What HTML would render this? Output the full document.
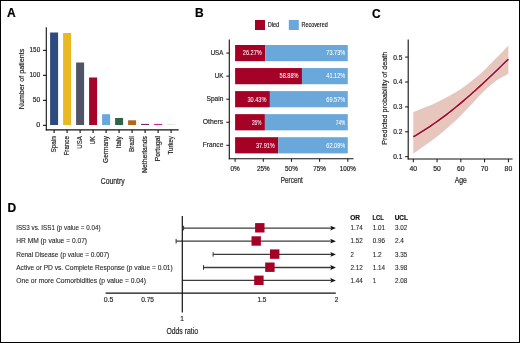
<!DOCTYPE html>
<html><head><meta charset="utf-8"><style>
html,body{margin:0;padding:0;background:#fff;}
svg{display:block;will-change:transform;}
text{font-family:"Liberation Sans", sans-serif;stroke:currentColor;stroke-width:0.18px;}
</style></head><body>
<svg width="520" height="343" viewBox="0 0 520 343" fill="#222">
<rect x="0" y="0" width="520" height="343" fill="#fff"/>
<text x="7.00" y="17.00" font-size="12" font-weight="bold" fill="#000" color="#000">A</text>
<line x1="46.30" y1="27.30" x2="46.30" y2="130.60" stroke="#111" stroke-width="1.1"/>
<line x1="45.80" y1="129.90" x2="178.70" y2="129.90" stroke="#111" stroke-width="1.2"/>
<line x1="43.00" y1="125.35" x2="46.30" y2="125.35" stroke="#111" stroke-width="1.1"/>
<text x="40.20" y="127.25" font-size="7.3" text-anchor="end" textLength="4.00" lengthAdjust="spacingAndGlyphs" fill="#222" color="#222">0</text>
<line x1="43.00" y1="100.35" x2="46.30" y2="100.35" stroke="#111" stroke-width="1.1"/>
<text x="40.20" y="102.25" font-size="7.3" text-anchor="end" textLength="7.40" lengthAdjust="spacingAndGlyphs" fill="#222" color="#222">50</text>
<line x1="43.00" y1="75.35" x2="46.30" y2="75.35" stroke="#111" stroke-width="1.1"/>
<text x="40.20" y="77.25" font-size="7.3" text-anchor="end" textLength="10.60" lengthAdjust="spacingAndGlyphs" fill="#222" color="#222">100</text>
<line x1="43.00" y1="50.35" x2="46.30" y2="50.35" stroke="#111" stroke-width="1.1"/>
<text x="40.20" y="52.25" font-size="7.3" text-anchor="end" textLength="10.60" lengthAdjust="spacingAndGlyphs" fill="#222" color="#222">150</text>
<rect x="50.10" y="32.50" width="8.00" height="92.50" fill="#2c4b7e"/>
<line x1="54.10" y1="129.90" x2="54.10" y2="133.10" stroke="#111" stroke-width="1.1"/>
<text x="56.40" y="136.10" font-size="6.8" text-anchor="end" textLength="16.50" lengthAdjust="spacingAndGlyphs" fill="#222" color="#222" transform="rotate(-90 56.40 136.10)">Spain</text>
<rect x="63.10" y="33.00" width="8.00" height="92.00" fill="#e9b822"/>
<line x1="67.10" y1="129.90" x2="67.10" y2="133.10" stroke="#111" stroke-width="1.1"/>
<text x="69.40" y="136.10" font-size="6.8" text-anchor="end" textLength="19.40" lengthAdjust="spacingAndGlyphs" fill="#222" color="#222" transform="rotate(-90 69.40 136.10)">France</text>
<rect x="76.10" y="62.50" width="8.00" height="62.50" fill="#4f5467"/>
<line x1="80.10" y1="129.90" x2="80.10" y2="133.10" stroke="#111" stroke-width="1.1"/>
<text x="82.40" y="136.10" font-size="6.8" text-anchor="end" textLength="12.60" lengthAdjust="spacingAndGlyphs" fill="#222" color="#222" transform="rotate(-90 82.40 136.10)">USA</text>
<rect x="89.10" y="77.50" width="8.00" height="47.50" fill="#a5052b"/>
<line x1="93.10" y1="129.90" x2="93.10" y2="133.10" stroke="#111" stroke-width="1.1"/>
<text x="95.40" y="136.10" font-size="6.8" text-anchor="end" textLength="8.50" lengthAdjust="spacingAndGlyphs" fill="#222" color="#222" transform="rotate(-90 95.40 136.10)">UK</text>
<rect x="102.10" y="114.20" width="8.00" height="10.80" fill="#6aa8dc"/>
<line x1="106.10" y1="129.90" x2="106.10" y2="133.10" stroke="#111" stroke-width="1.1"/>
<text x="108.40" y="136.10" font-size="6.8" text-anchor="end" textLength="26.80" lengthAdjust="spacingAndGlyphs" fill="#222" color="#222" transform="rotate(-90 108.40 136.10)">Germany</text>
<rect x="115.10" y="118.00" width="8.00" height="7.00" fill="#2e6447"/>
<line x1="119.10" y1="129.90" x2="119.10" y2="133.10" stroke="#111" stroke-width="1.1"/>
<text x="121.40" y="136.10" font-size="6.8" text-anchor="end" textLength="12.30" lengthAdjust="spacingAndGlyphs" fill="#222" color="#222" transform="rotate(-90 121.40 136.10)">Italy</text>
<rect x="128.10" y="120.30" width="8.00" height="4.70" fill="#b0661a"/>
<line x1="132.10" y1="129.90" x2="132.10" y2="133.10" stroke="#111" stroke-width="1.1"/>
<text x="134.40" y="136.10" font-size="6.8" text-anchor="end" textLength="15.80" lengthAdjust="spacingAndGlyphs" fill="#222" color="#222" transform="rotate(-90 134.40 136.10)">Brazil</text>
<rect x="141.10" y="123.90" width="8.00" height="1.10" fill="#6a2c7f"/>
<line x1="145.10" y1="129.90" x2="145.10" y2="133.10" stroke="#111" stroke-width="1.1"/>
<text x="147.40" y="136.10" font-size="6.8" text-anchor="end" textLength="36.80" lengthAdjust="spacingAndGlyphs" fill="#222" color="#222" transform="rotate(-90 147.40 136.10)">Netherlands</text>
<rect x="154.10" y="123.90" width="8.00" height="1.10" fill="#d41f8c"/>
<line x1="158.10" y1="129.90" x2="158.10" y2="133.10" stroke="#111" stroke-width="1.1"/>
<text x="160.40" y="136.10" font-size="6.8" text-anchor="end" textLength="25.10" lengthAdjust="spacingAndGlyphs" fill="#222" color="#222" transform="rotate(-90 160.40 136.10)">Portugal</text>
<rect x="167.10" y="123.90" width="8.00" height="1.10" fill="#e4e4e4"/>
<line x1="171.10" y1="129.90" x2="171.10" y2="133.10" stroke="#111" stroke-width="1.1"/>
<text x="173.40" y="136.10" font-size="6.8" text-anchor="end" textLength="18.40" lengthAdjust="spacingAndGlyphs" fill="#222" color="#222" transform="rotate(-90 173.40 136.10)">Turkey</text>
<text x="112.70" y="183.60" font-size="8.4" text-anchor="middle" textLength="24.00" lengthAdjust="spacingAndGlyphs" fill="#222" color="#222">Country</text>
<text x="24.00" y="79.00" font-size="8.0" text-anchor="middle" textLength="60.50" lengthAdjust="spacingAndGlyphs" fill="#222" color="#222" transform="rotate(-90 24.00 79.00)">Number of patients</text>
<text x="195.00" y="17.30" font-size="12" font-weight="bold" fill="#000" color="#000">B</text>
<rect x="255.00" y="20.00" width="10.00" height="10.00" fill="#a50026"/>
<text x="267.70" y="27.10" font-size="6.4" textLength="11.50" lengthAdjust="spacingAndGlyphs" fill="#222" color="#222">Died</text>
<rect x="288.80" y="20.00" width="10.00" height="10.00" fill="#6aa8dc"/>
<text x="301.50" y="27.10" font-size="6.4" textLength="26.20" lengthAdjust="spacingAndGlyphs" fill="#222" color="#222">Recovered</text>
<line x1="229.30" y1="39.40" x2="229.30" y2="159.30" stroke="#111" stroke-width="1.1"/>
<line x1="228.80" y1="158.75" x2="353.50" y2="158.75" stroke="#111" stroke-width="1.1"/>
<rect x="235.10" y="45.00" width="30.11" height="16.20" fill="#a50026"/>
<rect x="265.21" y="45.00" width="82.59" height="16.20" fill="#6aa8dc"/>
<line x1="226.30" y1="53.10" x2="229.30" y2="53.10" stroke="#111" stroke-width="1"/>
<text x="223.30" y="55.00" font-size="7.2" text-anchor="end" textLength="12.60" lengthAdjust="spacingAndGlyphs" fill="#222" color="#222">USA</text>
<text x="261.71" y="55.40" font-size="6.7" text-anchor="end" textLength="18.90" lengthAdjust="spacingAndGlyphs" fill="#fff" color="#fff" style="stroke-width:0.05px">26.27%</text>
<text x="345.20" y="55.40" font-size="6.7" text-anchor="end" textLength="18.90" lengthAdjust="spacingAndGlyphs" fill="#fff" color="#fff" style="stroke-width:0.05px">73.73%</text>
<rect x="235.10" y="68.05" width="66.86" height="16.20" fill="#a50026"/>
<rect x="301.96" y="68.05" width="45.84" height="16.20" fill="#6aa8dc"/>
<line x1="226.30" y1="76.15" x2="229.30" y2="76.15" stroke="#111" stroke-width="1"/>
<text x="223.30" y="78.05" font-size="7.2" text-anchor="end" textLength="8.50" lengthAdjust="spacingAndGlyphs" fill="#222" color="#222">UK</text>
<text x="298.46" y="78.45" font-size="6.7" text-anchor="end" textLength="18.90" lengthAdjust="spacingAndGlyphs" fill="#fff" color="#fff" style="stroke-width:0.05px">58.88%</text>
<text x="345.20" y="78.45" font-size="6.7" text-anchor="end" textLength="18.90" lengthAdjust="spacingAndGlyphs" fill="#fff" color="#fff" style="stroke-width:0.05px">41.12%</text>
<rect x="235.10" y="91.10" width="34.79" height="16.20" fill="#a50026"/>
<rect x="269.89" y="91.10" width="77.91" height="16.20" fill="#6aa8dc"/>
<line x1="226.30" y1="99.20" x2="229.30" y2="99.20" stroke="#111" stroke-width="1"/>
<text x="223.30" y="101.10" font-size="7.2" text-anchor="end" textLength="16.80" lengthAdjust="spacingAndGlyphs" fill="#222" color="#222">Spain</text>
<text x="266.39" y="101.50" font-size="6.7" text-anchor="end" textLength="18.90" lengthAdjust="spacingAndGlyphs" fill="#fff" color="#fff" style="stroke-width:0.05px">30.43%</text>
<text x="345.20" y="101.50" font-size="6.7" text-anchor="end" textLength="18.90" lengthAdjust="spacingAndGlyphs" fill="#fff" color="#fff" style="stroke-width:0.05px">69.57%</text>
<rect x="235.10" y="114.15" width="29.80" height="16.20" fill="#a50026"/>
<rect x="264.90" y="114.15" width="82.90" height="16.20" fill="#6aa8dc"/>
<line x1="226.30" y1="122.25" x2="229.30" y2="122.25" stroke="#111" stroke-width="1"/>
<text x="223.30" y="124.15" font-size="7.2" text-anchor="end" textLength="20.50" lengthAdjust="spacingAndGlyphs" fill="#222" color="#222">Others</text>
<text x="261.40" y="124.55" font-size="6.7" text-anchor="end" textLength="9.40" lengthAdjust="spacingAndGlyphs" fill="#fff" color="#fff" style="stroke-width:0.05px">26%</text>
<text x="345.20" y="124.55" font-size="6.7" text-anchor="end" textLength="9.40" lengthAdjust="spacingAndGlyphs" fill="#fff" color="#fff" style="stroke-width:0.05px">74%</text>
<rect x="235.10" y="137.20" width="43.22" height="16.20" fill="#a50026"/>
<rect x="278.32" y="137.20" width="69.48" height="16.20" fill="#6aa8dc"/>
<line x1="226.30" y1="145.30" x2="229.30" y2="145.30" stroke="#111" stroke-width="1"/>
<text x="223.30" y="147.20" font-size="7.2" text-anchor="end" textLength="20.50" lengthAdjust="spacingAndGlyphs" fill="#222" color="#222">France</text>
<text x="274.82" y="147.60" font-size="6.7" text-anchor="end" textLength="18.90" lengthAdjust="spacingAndGlyphs" fill="#fff" color="#fff" style="stroke-width:0.05px">37.91%</text>
<text x="345.20" y="147.60" font-size="6.7" text-anchor="end" textLength="18.90" lengthAdjust="spacingAndGlyphs" fill="#fff" color="#fff" style="stroke-width:0.05px">62.09%</text>
<line x1="235.10" y1="158.75" x2="235.10" y2="161.80" stroke="#111" stroke-width="1"/>
<text x="235.10" y="171.30" font-size="6.6" text-anchor="middle" textLength="9.30" lengthAdjust="spacingAndGlyphs" fill="#222" color="#222">0%</text>
<line x1="263.27" y1="158.75" x2="263.27" y2="161.80" stroke="#111" stroke-width="1"/>
<text x="263.27" y="171.30" font-size="6.6" text-anchor="middle" textLength="12.70" lengthAdjust="spacingAndGlyphs" fill="#222" color="#222">25%</text>
<line x1="291.45" y1="158.75" x2="291.45" y2="161.80" stroke="#111" stroke-width="1"/>
<text x="291.45" y="171.30" font-size="6.6" text-anchor="middle" textLength="12.70" lengthAdjust="spacingAndGlyphs" fill="#222" color="#222">50%</text>
<line x1="319.62" y1="158.75" x2="319.62" y2="161.80" stroke="#111" stroke-width="1"/>
<text x="319.62" y="171.30" font-size="6.6" text-anchor="middle" textLength="12.70" lengthAdjust="spacingAndGlyphs" fill="#222" color="#222">75%</text>
<line x1="347.80" y1="158.75" x2="347.80" y2="161.80" stroke="#111" stroke-width="1"/>
<text x="347.80" y="171.30" font-size="6.6" text-anchor="middle" textLength="16.10" lengthAdjust="spacingAndGlyphs" fill="#222" color="#222">100%</text>
<text x="291.80" y="183.20" font-size="8.4" text-anchor="middle" textLength="22.00" lengthAdjust="spacingAndGlyphs" fill="#222" color="#222">Percent</text>
<text x="372.00" y="17.50" font-size="12" font-weight="bold" fill="#000" color="#000">C</text>
<path d="M413.30,112.20 C415.28,111.38 421.23,108.97 425.19,107.30 C429.15,105.63 433.11,104.08 437.07,102.20 C441.04,100.32 445.00,98.20 448.96,96.00 C452.92,93.80 456.89,91.67 460.85,89.00 C464.81,86.33 468.78,83.17 472.74,80.00 C476.70,76.83 480.66,73.70 484.62,70.00 C488.59,66.30 492.55,61.88 496.51,57.80 C500.47,53.72 506.42,47.55 508.40,45.50 L508.40,73.80 C506.42,74.92 500.47,77.72 496.51,80.50 C492.55,83.28 488.59,86.75 484.62,90.50 C480.66,94.25 476.70,98.83 472.74,103.00 C468.78,107.17 464.81,111.58 460.85,115.50 C456.89,119.42 452.92,123.00 448.96,126.50 C445.00,130.00 441.04,133.37 437.07,136.50 C433.11,139.63 429.15,142.42 425.19,145.30 C421.23,148.18 415.28,152.38 413.30,153.80 Z" fill="#e6c6bd"/>
<polyline points="413.30,136.77 415.68,135.39 418.06,133.97 420.43,132.53 422.81,131.05 425.19,129.54 427.56,128.00 429.94,126.42 432.32,124.81 434.70,123.17 437.07,121.49 439.45,119.78 441.83,118.04 444.21,116.27 446.58,114.47 448.96,112.63 451.34,110.77 453.72,108.87 456.09,106.95 458.47,104.99 460.85,103.01 463.23,101.00 465.61,98.97 467.98,96.91 470.36,94.82 472.74,92.71 475.12,90.58 477.49,88.43 479.87,86.25 482.25,84.06 484.62,81.85 487.00,79.63 489.38,77.39 491.76,75.13 494.13,72.86 496.51,70.59 498.89,68.30 501.27,66.01 503.64,63.70 506.02,61.40 508.40,59.09" fill="none" stroke="#f3e4df" stroke-width="2.9"/>
<polyline points="413.30,136.77 415.68,135.39 418.06,133.97 420.43,132.53 422.81,131.05 425.19,129.54 427.56,128.00 429.94,126.42 432.32,124.81 434.70,123.17 437.07,121.49 439.45,119.78 441.83,118.04 444.21,116.27 446.58,114.47 448.96,112.63 451.34,110.77 453.72,108.87 456.09,106.95 458.47,104.99 460.85,103.01 463.23,101.00 465.61,98.97 467.98,96.91 470.36,94.82 472.74,92.71 475.12,90.58 477.49,88.43 479.87,86.25 482.25,84.06 484.62,81.85 487.00,79.63 489.38,77.39 491.76,75.13 494.13,72.86 496.51,70.59 498.89,68.30 501.27,66.01 503.64,63.70 506.02,61.40 508.40,59.09" fill="none" stroke="#a60a2c" stroke-width="1.7"/>
<line x1="408.20" y1="39.40" x2="408.20" y2="159.50" stroke="#111" stroke-width="1.1"/>
<line x1="407.70" y1="159.00" x2="512.60" y2="159.00" stroke="#111" stroke-width="1.1"/>
<line x1="405.10" y1="156.70" x2="408.20" y2="156.70" stroke="#111" stroke-width="1"/>
<text x="402.30" y="159.10" font-size="6.6" text-anchor="end" textLength="9.10" lengthAdjust="spacingAndGlyphs" fill="#222" color="#222">0.1</text>
<line x1="405.10" y1="131.80" x2="408.20" y2="131.80" stroke="#111" stroke-width="1"/>
<text x="402.30" y="134.20" font-size="6.6" text-anchor="end" textLength="9.10" lengthAdjust="spacingAndGlyphs" fill="#222" color="#222">0.2</text>
<line x1="405.10" y1="106.90" x2="408.20" y2="106.90" stroke="#111" stroke-width="1"/>
<text x="402.30" y="109.30" font-size="6.6" text-anchor="end" textLength="9.10" lengthAdjust="spacingAndGlyphs" fill="#222" color="#222">0.3</text>
<line x1="405.10" y1="82.00" x2="408.20" y2="82.00" stroke="#111" stroke-width="1"/>
<text x="402.30" y="84.40" font-size="6.6" text-anchor="end" textLength="9.10" lengthAdjust="spacingAndGlyphs" fill="#222" color="#222">0.4</text>
<line x1="405.10" y1="57.10" x2="408.20" y2="57.10" stroke="#111" stroke-width="1"/>
<text x="402.30" y="59.50" font-size="6.6" text-anchor="end" textLength="9.10" lengthAdjust="spacingAndGlyphs" fill="#222" color="#222">0.5</text>
<line x1="413.30" y1="159.00" x2="413.30" y2="162.30" stroke="#111" stroke-width="1"/>
<text x="413.30" y="170.90" font-size="6.6" text-anchor="middle" textLength="7.60" lengthAdjust="spacingAndGlyphs" fill="#222" color="#222">40</text>
<line x1="437.07" y1="159.00" x2="437.07" y2="162.30" stroke="#111" stroke-width="1"/>
<text x="437.07" y="170.90" font-size="6.6" text-anchor="middle" textLength="7.60" lengthAdjust="spacingAndGlyphs" fill="#222" color="#222">50</text>
<line x1="460.85" y1="159.00" x2="460.85" y2="162.30" stroke="#111" stroke-width="1"/>
<text x="460.85" y="170.90" font-size="6.6" text-anchor="middle" textLength="7.60" lengthAdjust="spacingAndGlyphs" fill="#222" color="#222">60</text>
<line x1="484.62" y1="159.00" x2="484.62" y2="162.30" stroke="#111" stroke-width="1"/>
<text x="484.62" y="170.90" font-size="6.6" text-anchor="middle" textLength="7.60" lengthAdjust="spacingAndGlyphs" fill="#222" color="#222">70</text>
<line x1="508.40" y1="159.00" x2="508.40" y2="162.30" stroke="#111" stroke-width="1"/>
<text x="508.40" y="170.90" font-size="6.6" text-anchor="middle" textLength="7.60" lengthAdjust="spacingAndGlyphs" fill="#222" color="#222">80</text>
<text x="460.80" y="183.30" font-size="8.4" text-anchor="middle" textLength="12.20" lengthAdjust="spacingAndGlyphs" fill="#222" color="#222">Age</text>
<text x="387.40" y="98.25" font-size="7.6" text-anchor="middle" textLength="93.10" lengthAdjust="spacingAndGlyphs" fill="#222" color="#222" transform="rotate(-90 387.40 98.25)">Predicted probability of death</text>
<text x="7.50" y="211.70" font-size="12" font-weight="bold" fill="#000" color="#000">D</text>
<text x="16.20" y="230.10" font-size="6.5" textLength="84.30" lengthAdjust="spacingAndGlyphs" fill="#2a2a2a" color="#2a2a2a" style="stroke-width:0.1px">ISS3 vs. ISS1 (p value = 0.04)</text>
<line x1="183.60" y1="228.10" x2="331.00" y2="228.10" stroke="#3c3c3c" stroke-width="1.3"/>
<line x1="183.60" y1="225.80" x2="183.60" y2="230.40" stroke="#333" stroke-width="1"/>
<path d="M330.3,225.70 L335.9,228.10 L330.3,230.50 L331.3,228.10 Z" fill="#111"/>
<rect x="255.10" y="223.10" width="9.40" height="9.40" fill="#a50026"/>
<text x="350.50" y="230.10" font-size="6.9" textLength="12.30" lengthAdjust="spacingAndGlyphs" fill="#2a2a2a" color="#2a2a2a" style="stroke-width:0.1px">1.74</text>
<text x="372.70" y="230.10" font-size="6.9" textLength="12.30" lengthAdjust="spacingAndGlyphs" fill="#2a2a2a" color="#2a2a2a" style="stroke-width:0.1px">1.01</text>
<text x="394.90" y="230.10" font-size="6.9" textLength="12.30" lengthAdjust="spacingAndGlyphs" fill="#2a2a2a" color="#2a2a2a" style="stroke-width:0.1px">3.02</text>
<text x="16.20" y="243.40" font-size="6.5" textLength="70.90" lengthAdjust="spacingAndGlyphs" fill="#2a2a2a" color="#2a2a2a" style="stroke-width:0.1px">HR MM (p value = 0.07)</text>
<line x1="176.10" y1="241.20" x2="331.00" y2="241.20" stroke="#3c3c3c" stroke-width="1.3"/>
<line x1="176.10" y1="238.90" x2="176.10" y2="243.50" stroke="#333" stroke-width="1"/>
<path d="M330.3,238.80 L335.9,241.20 L330.3,243.60 L331.3,241.20 Z" fill="#111"/>
<rect x="251.50" y="236.30" width="9.40" height="9.40" fill="#a50026"/>
<text x="350.50" y="243.40" font-size="6.9" textLength="12.30" lengthAdjust="spacingAndGlyphs" fill="#2a2a2a" color="#2a2a2a" style="stroke-width:0.1px">1.52</text>
<text x="372.70" y="243.40" font-size="6.9" textLength="12.30" lengthAdjust="spacingAndGlyphs" fill="#2a2a2a" color="#2a2a2a" style="stroke-width:0.1px">0.96</text>
<text x="394.90" y="243.40" font-size="6.9" textLength="9.00" lengthAdjust="spacingAndGlyphs" fill="#2a2a2a" color="#2a2a2a" style="stroke-width:0.1px">2.4</text>
<text x="16.20" y="256.60" font-size="6.5" textLength="93.00" lengthAdjust="spacingAndGlyphs" fill="#2a2a2a" color="#2a2a2a" style="stroke-width:0.1px">Renal Disease (p value = 0.007)</text>
<line x1="213.10" y1="254.40" x2="331.00" y2="254.40" stroke="#3c3c3c" stroke-width="1.3"/>
<line x1="213.10" y1="252.10" x2="213.10" y2="256.70" stroke="#333" stroke-width="1"/>
<path d="M330.3,252.00 L335.9,254.40 L330.3,256.80 L331.3,254.40 Z" fill="#111"/>
<rect x="270.00" y="249.40" width="9.40" height="9.40" fill="#a50026"/>
<text x="350.50" y="256.60" font-size="6.9" textLength="3.30" lengthAdjust="spacingAndGlyphs" fill="#2a2a2a" color="#2a2a2a" style="stroke-width:0.1px">2</text>
<text x="372.70" y="256.60" font-size="6.9" textLength="9.00" lengthAdjust="spacingAndGlyphs" fill="#2a2a2a" color="#2a2a2a" style="stroke-width:0.1px">1.2</text>
<text x="394.90" y="256.60" font-size="6.9" textLength="12.30" lengthAdjust="spacingAndGlyphs" fill="#2a2a2a" color="#2a2a2a" style="stroke-width:0.1px">3.35</text>
<text x="16.20" y="269.90" font-size="6.5" textLength="156.50" lengthAdjust="spacingAndGlyphs" fill="#2a2a2a" color="#2a2a2a" style="stroke-width:0.1px">Active or PD vs. Complete Response (p value = 0.01)</text>
<line x1="203.50" y1="267.50" x2="331.00" y2="267.50" stroke="#3c3c3c" stroke-width="1.3"/>
<line x1="203.50" y1="265.20" x2="203.50" y2="269.80" stroke="#333" stroke-width="1"/>
<path d="M330.3,265.10 L335.9,267.50 L330.3,269.90 L331.3,267.50 Z" fill="#111"/>
<rect x="265.20" y="262.50" width="9.40" height="9.40" fill="#a50026"/>
<text x="350.50" y="269.90" font-size="6.9" textLength="12.30" lengthAdjust="spacingAndGlyphs" fill="#2a2a2a" color="#2a2a2a" style="stroke-width:0.1px">2.12</text>
<text x="372.70" y="269.90" font-size="6.9" textLength="12.30" lengthAdjust="spacingAndGlyphs" fill="#2a2a2a" color="#2a2a2a" style="stroke-width:0.1px">1.14</text>
<text x="394.90" y="269.90" font-size="6.9" textLength="12.30" lengthAdjust="spacingAndGlyphs" fill="#2a2a2a" color="#2a2a2a" style="stroke-width:0.1px">3.98</text>
<text x="16.20" y="283.20" font-size="6.5" textLength="129.90" lengthAdjust="spacingAndGlyphs" fill="#2a2a2a" color="#2a2a2a" style="stroke-width:0.1px">One or more Comorbidities (p value = 0.04)</text>
<line x1="182.30" y1="280.40" x2="331.00" y2="280.40" stroke="#3c3c3c" stroke-width="1.3"/>
<path d="M330.3,278.00 L335.9,280.40 L330.3,282.80 L331.3,280.40 Z" fill="#111"/>
<rect x="254.20" y="275.60" width="9.40" height="9.40" fill="#a50026"/>
<text x="350.50" y="283.20" font-size="6.9" textLength="12.30" lengthAdjust="spacingAndGlyphs" fill="#2a2a2a" color="#2a2a2a" style="stroke-width:0.1px">1.44</text>
<text x="372.70" y="283.20" font-size="6.9" textLength="3.30" lengthAdjust="spacingAndGlyphs" fill="#2a2a2a" color="#2a2a2a" style="stroke-width:0.1px">1</text>
<text x="394.90" y="283.20" font-size="6.9" textLength="12.30" lengthAdjust="spacingAndGlyphs" fill="#2a2a2a" color="#2a2a2a" style="stroke-width:0.1px">2.08</text>
<text x="350.30" y="220.10" font-size="6.8" textLength="9.80" lengthAdjust="spacingAndGlyphs" font-weight="bold" fill="#111" color="#111">OR</text>
<text x="372.60" y="220.10" font-size="6.8" textLength="11.10" lengthAdjust="spacingAndGlyphs" font-weight="bold" fill="#111" color="#111">LCL</text>
<text x="394.70" y="220.10" font-size="6.8" textLength="13.30" lengthAdjust="spacingAndGlyphs" font-weight="bold" fill="#111" color="#111">UCL</text>
<line x1="182.30" y1="216.10" x2="182.30" y2="312.40" stroke="#111" stroke-width="1.2"/>
<line x1="105.60" y1="293.10" x2="335.80" y2="293.10" stroke="#111" stroke-width="1.2"/>
<text x="103.70" y="302.20" font-size="6.6" textLength="9.60" lengthAdjust="spacingAndGlyphs" fill="#2a2a2a" color="#2a2a2a">0.5</text>
<text x="141.20" y="302.20" font-size="6.6" textLength="12.80" lengthAdjust="spacingAndGlyphs" fill="#2a2a2a" color="#2a2a2a">0.75</text>
<text x="257.60" y="302.20" font-size="6.6" textLength="8.80" lengthAdjust="spacingAndGlyphs" fill="#2a2a2a" color="#2a2a2a">1.5</text>
<text x="334.80" y="302.20" font-size="6.6" textLength="3.60" lengthAdjust="spacingAndGlyphs" fill="#2a2a2a" color="#2a2a2a">2</text>
<text x="182.20" y="321.10" font-size="6.6" text-anchor="middle" fill="#2a2a2a" color="#2a2a2a">1</text>
<text x="182.20" y="333.60" font-size="9" text-anchor="middle" textLength="31.60" lengthAdjust="spacingAndGlyphs" fill="#222" color="#222">Odds ratio</text>
<rect x="0.5" y="0.5" width="519" height="342" fill="none" stroke="#000" stroke-width="1"/>
</svg>
</body></html>
